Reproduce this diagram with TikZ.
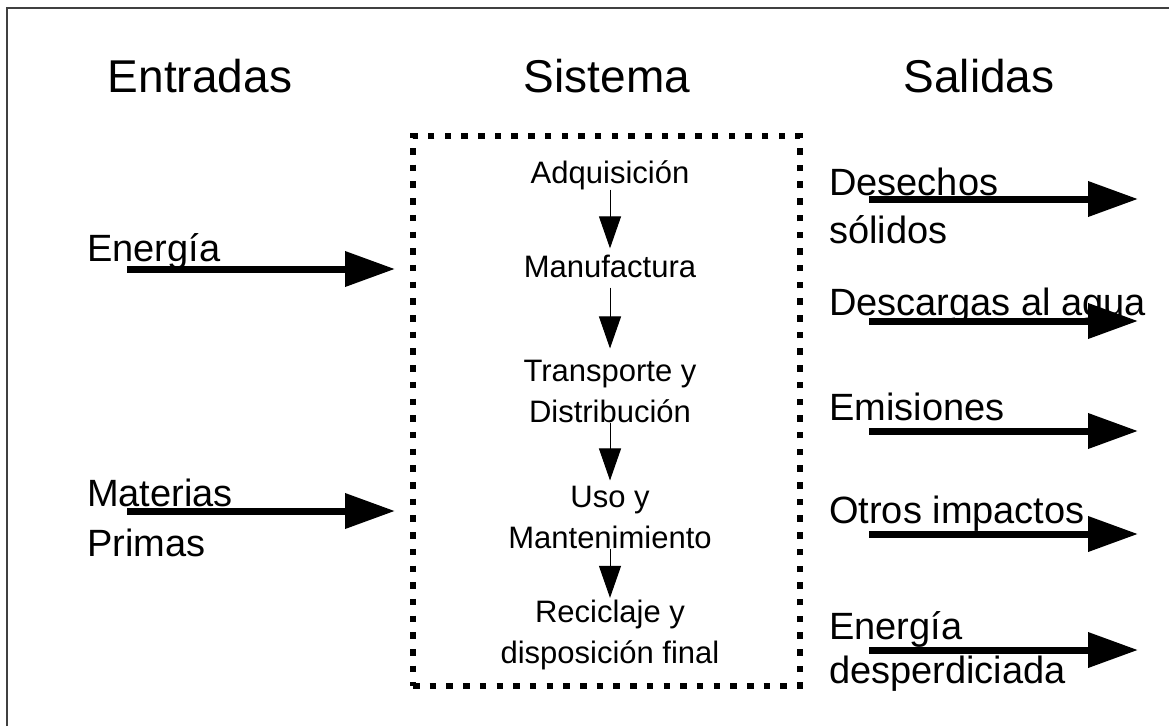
\documentclass[tikz,border=0pt]{standalone}
\usepackage{fontspec}
\setmainfont{Liberation Sans}
\usetikzlibrary{arrows.meta, positioning}

\begin{document}
\begin{tikzpicture}[x=1pt, y=-1pt,
		heading/.style={font=\fontsize{46}{55}\selectfont, inner sep=0pt, anchor=base},
		sidetext/.style={font=\fontsize{38}{47}\selectfont, inner sep=0pt, align=left, anchor=base west},
		stage/.style={font=\fontsize{31}{41}\selectfont, inner sep=0pt, align=center, anchor=base},
		flow/.style={line width=7pt, -{Triangle[length=50pt, width=34pt]}},
		stepline/.style={line width=1pt, -{Triangle[length=32pt, width=22pt]}}]
		\useasboundingbox (0,0) rectangle (1169,726);
		% Frame
		\draw[black!75, line width=1.5pt] (7,726) -- (7,8) -- (1169,8);
		
		% Headings
		\node[heading] (entradas) at (200,92) {Entradas};
		\node[heading] (sistema) at (607,92) {Sistema};
		\node[heading] (salidas) at (979,92) {Salidas};
		
		% System box
		\node[draw, line width=6.5pt, dash pattern=on 6.5pt off 10.2pt, minimum width=387pt, minimum height=550pt, inner sep=0pt] (caja) at (606.5,411) {};
		
		% Stages (base = last line)
		\node[stage] (adq) at (610,183) {Adquisición};
		\node[stage] (man) at (610,277) {Manufactura};
		\node[stage] (tra) at (610,422) {Transporte y\\Distribución};
		\node[stage] (uso) at (610,548) {Uso y\\Mantenimiento};
		\node[stage] (rec) at (610,663) {Reciclaje y\\disposición final};
		
		\draw[stepline, shorten >=6pt] (adq) -- (man);
		\draw[stepline, shorten <=10pt, shorten >=11pt] (man) -- (tra);
		\draw[stepline, shorten >=5pt] (tra) -- (uso);
		\draw[stepline, shorten >=1.5pt] (uso) -- (rec);
		
		% Inputs
		\node[sidetext] (energia) at (87,261) {Energía};
		\node[sidetext, font=\fontsize{38}{50}\selectfont] (materias) at (87,556) {Materias\\Primas};
		\coordinate (e1) at (127,269);
		\coordinate (m1) at (127,511);
		\draw[flow] (e1) -- (e1 -| 395,0);
		\draw[flow] (m1) -- (m1 -| 395,0);
		
		% Outputs
		\node[sidetext, font=\fontsize{38}{48}\selectfont] (desechos) at (829,243) {Desechos\\sólidos};
		\node[sidetext] (descargas) at (829,315) {Descargas al agua};
		\node[sidetext] (emisiones) at (829,420) {Emisiones};
		\node[sidetext] (otros) at (829,523) {Otros impactos};
		\node[sidetext, font=\fontsize{38}{44}\selectfont] (perdida) at (829,683) {Energía\\desperdiciada};
		\foreach \y/\n in {199/s1, 321/s2, 431/s3, 534/s4, 650/s5} {
			\coordinate (\n) at (869,\y);
			\draw[flow] (\n) -- (\n -| 1138,0);
		}
\end{tikzpicture}
\end{document}
